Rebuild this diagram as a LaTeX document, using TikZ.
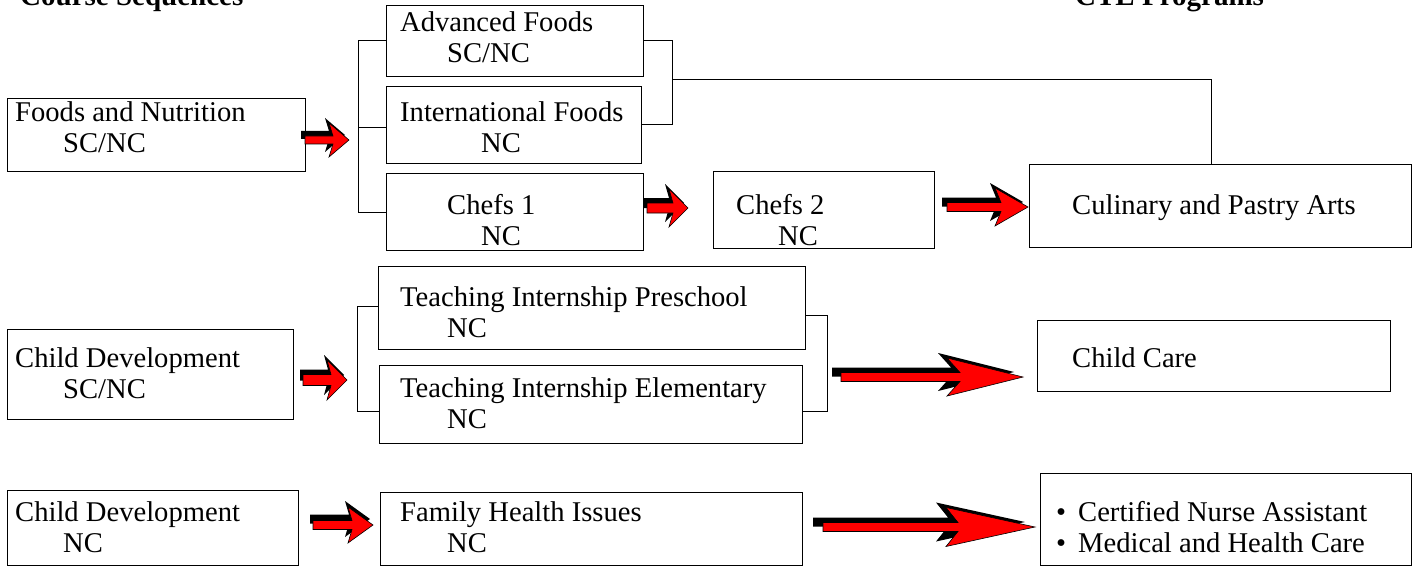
\documentclass[tikz,border=0pt]{standalone}
\usepackage{fontspec}
\setmainfont{Liberation Serif}
\newcommand{\fatarrow}[9]{%
  \begin{scope}[shift={(#8,#9)}]
    \fill[black] (#1,#3-#4) -- (#2-#6+#7,#3-#4) -- (#2-#6,#3-#5) -- (#2,#3) -- (#2-#6,#3+#5) -- (#2-#6+#7,#3+#4) -- (#1,#3+#4) -- cycle;
  \end{scope}
  \filldraw[fill=red, draw=black, line width=0.6pt] (#1,#3-#4) -- (#2-#6+#7,#3-#4) -- (#2-#6,#3-#5) -- (#2,#3) -- (#2-#6,#3+#5) -- (#2-#6+#7,#3+#4) -- (#1,#3+#4) -- cycle;
}
\tikzset{
  box/.style={draw, line width=1pt, inner sep=0pt, anchor=north west},
  txt/.style={anchor=base west, inner sep=0pt, font=\fontsize{28.6}{31}\selectfont},
  headtxt/.style={anchor=base west, inner sep=0pt, font=\fontsize{29}{31}\selectfont\bfseries},
  link/.style={line width=1pt},
}
\begin{document}
\begin{tikzpicture}[x=1pt, y=-1pt]
\useasboundingbox (0,0) rectangle (1419,567);
% headings (cut at the top, as in the reference)
\node[headtxt] (hl) at (20,6) {Course Sequences};
\node[headtxt] (hr) at (1075,6) {CTE Programs};
% boxes
\node[box, minimum width=298pt, minimum height=73pt] (fn) at (7,98) {};
\node[box, minimum width=257pt, minimum height=71pt] (adv) at (386,5) {};
\node[box, minimum width=255pt, minimum height=77pt] (intl) at (386,86) {};
\node[box, minimum width=257pt, minimum height=77pt] (ch1) at (386,173) {};
\node[box, minimum width=221pt, minimum height=77pt] (ch2) at (713,171) {};
\node[box, minimum width=382pt, minimum height=83pt] (cul) at (1029,164) {};
\node[box, minimum width=286pt, minimum height=90pt] (cd1) at (7,329) {};
\node[box, minimum width=427pt, minimum height=83pt] (pre) at (378,266) {};
\node[box, minimum width=423pt, minimum height=78pt] (ele) at (379,365) {};
\node[box, minimum width=353pt, minimum height=71pt] (cc) at (1037,320) {};
\node[box, minimum width=291pt, minimum height=75pt] (cd2) at (7,490) {};
\node[box, minimum width=422pt, minimum height=73pt] (fam) at (380,492) {};
\node[box, minimum width=371pt, minimum height=92pt] (cna) at (1040,473) {};
% texts
\node[txt] (t1a) at (15,122) {Foods and Nutrition};
\node[txt] (t1b) at (63,153) {SC/NC};
\node[txt] (t2a) at (400,32) {Advanced Foods};
\node[txt] (t2b) at (447,63) {SC/NC};
\node[txt] (t3a) at (400,122) {International Foods};
\node[txt] (t3b) at (481,153) {NC};
\node[txt] (t4a) at (447,214) {Chefs 1};
\node[txt] (t4b) at (481,245) {NC};
\node[txt] (t5a) at (736,214) {Chefs 2};
\node[txt] (t5b) at (778,245) {NC};
\node[txt] (t6) at (1072,214) {Culinary and Pastry Arts};
\node[txt] (t7a) at (15,367) {Child Development};
\node[txt] (t7b) at (63,398) {SC/NC};
\node[txt] (t8a) at (400,306) {Teaching Internship Preschool};
\node[txt] (t8b) at (447,337) {NC};
\node[txt] (t9a) at (400,397) {Teaching Internship Elementary};
\node[txt] (t9b) at (447,428) {NC};
\node[txt] (t10) at (1072,367) {Child Care};
\node[txt] (t11a) at (15,521) {Child Development};
\node[txt] (t11b) at (63,552) {NC};
\node[txt] (t12a) at (400,521) {Family Health Issues};
\node[txt] (t12b) at (447,552) {NC};
\node[txt] (b1) at (1056,521) {\textbullet};
\node[txt] (t13a) at (1078,521) {Certified Nurse Assistant};
\node[txt] (b2) at (1056,552) {\textbullet};
\node[txt] (t13b) at (1078,552) {Medical and Health Care};
% brackets
\coordinate (bl) at (358,0);
\draw[link] (adv.west) -- (adv.west -| bl) -- (ch1.west -| bl) -- (ch1.west);
\draw[link] ([yshift=-3pt]intl.west -| bl) -- ([yshift=-3pt]intl.west);
\coordinate (br) at (672,0);
\draw[link] (adv.east) -- (adv.east -| br) -- (intl.east -| br) -- (intl.east);
\coordinate (bm) at (672,80);
\coordinate (cv) at (1211,0);
\draw[link] (bm) -- (bm -| cv) -- (cul.north -| cv);
\coordinate (ml) at (357,0);
\draw[link] ([yshift=2pt]pre.west) -- ([yshift=2pt]pre.west -| ml) -- ([yshift=-7pt]ele.west -| ml) -- ([yshift=-7pt]ele.west);
\coordinate (mr) at (827,0);
\draw[link] ([yshift=-7pt]pre.east) -- ([yshift=-7pt]pre.east -| mr) -- ([yshift=-7pt]ele.east -| mr) -- ([yshift=-7pt]ele.east);
% arrows
\fatarrow{305}{349}{140}{4}{17}{20}{4}{-4}{-5}
\fatarrow{647}{688}{208}{5}{19}{19}{4}{-4}{-5}
\fatarrow{947}{1028}{207}{4.5}{19}{33}{6}{-5}{-5}
\fatarrow{303}{347}{380}{5.5}{20}{20}{4}{-3}{-5}
\fatarrow{313}{373}{525}{4.5}{18}{25}{4}{-3}{-6}
\fatarrow{841}{1023}{377}{4.5}{19}{76}{13}{-9}{-5}
\fatarrow{823}{1035}{527}{4.5}{19.5}{89}{12}{-10}{-5}
\end{tikzpicture}
\end{document}
